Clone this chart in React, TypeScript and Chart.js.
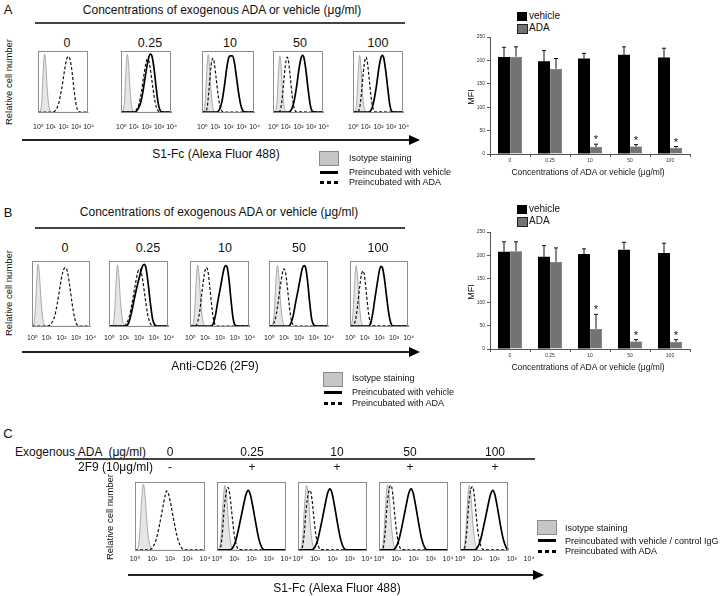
import React, { useEffect, useRef } from 'react';
import { Chart, registerables } from 'chart.js';

Chart.register(...registerables);

type Pt = [number, number];

const FONT = '"Liberation Sans", Arial, Helvetica, "DejaVu Sans", sans-serif';
Chart.defaults.font.family = FONT;

// ---------- tick labels / categories ----------
const decadeLabels = ['10⁰', '10¹', '10²', '10³', '10⁴'];
const concLabels = ['0', '0.25', '10', '50', '100'];
const antibodyFlags = ['-', '+', '+', '+', '+'];
const barCategories = ['0', '0.25', '10', '50', '100'];

// ---------- panel A histograms (x = log10 decade, y = % of max) ----------
const aIsotype: Pt[][] = [
  [[0,1],[0.15,2],[0.28,20],[0.38,62],[0.5,95],[0.6,78],[0.7,42],[0.82,14],[0.95,3],[1.1,1],[4,1]],
  [[0,1],[0.13,2],[0.26,20],[0.36,62],[0.48,95],[0.58,78],[0.68,42],[0.8,14],[0.93,3],[1.1,1],[4,1]],
  [[0,1],[0.1,2],[0.23,20],[0.33,62],[0.45,94],[0.55,76],[0.65,40],[0.77,13],[0.9,3],[1.05,1],[4,1]],
  [[0,1],[0.17,2],[0.3,20],[0.4,62],[0.52,92],[0.62,76],[0.72,40],[0.84,13],[0.97,3],[1.1,1],[4,1]],
  [[0,1],[0.15,2],[0.28,20],[0.38,60],[0.5,93],[0.6,76],[0.7,40],[0.82,13],[0.95,3],[1.1,1],[4,1]],
];
const aVehicle: (Pt[] | null)[] = [
  null,
  [[0,1.5],[1.05,1.5],[1.25,4],[1.5,14],[1.7,32],[1.9,58],[2.08,80],[2.22,92],[2.34,95],[2.46,90],[2.6,72],[2.75,45],[2.9,20],[3.05,6],[3.25,1.5],[4,1.5]],
  [[0,1.5],[1.1,1.5],[1.3,5],[1.5,18],[1.7,45],[1.88,74],[2.02,89],[2.15,92],[2.3,92],[2.45,82],[2.6,60],[2.78,32],[2.95,12],[3.12,3],[3.3,1.5],[4,1.5]],
  [[0,1.5],[1.2,1.5],[1.4,4],[1.62,16],[1.85,42],[2.05,72],[2.2,88],[2.33,93],[2.45,88],[2.6,68],[2.77,38],[2.93,14],[3.1,3],[3.3,1.5],[4,1.5]],
  [[0,1.5],[1.2,1.5],[1.4,4],[1.6,16],[1.83,42],[2.03,72],[2.18,88],[2.31,93],[2.43,88],[2.58,68],[2.75,38],[2.9,14],[3.05,3],[3.25,1.5],[4,1.5]],
];
const aAda: Pt[][] = [
  [[0,1.5],[1.15,1.5],[1.35,4],[1.6,14],[1.85,38],[2.05,64],[2.2,82],[2.32,90],[2.42,91],[2.55,84],[2.7,64],[2.85,36],[3.0,14],[3.15,4],[3.35,1.5],[4,1.5]],
  [[0,1.5],[0.95,1.5],[1.15,4],[1.4,14],[1.6,34],[1.8,62],[1.95,80],[2.05,87],[2.15,86],[2.3,72],[2.45,50],[2.6,28],[2.78,10],[2.95,3],[3.15,1.5],[4,1.5]],
  [[0,1.5],[0.25,2],[0.38,10],[0.5,35],[0.62,66],[0.72,84],[0.82,88],[0.92,80],[1.05,58],[1.2,30],[1.35,11],[1.5,3],[1.7,1.5],[4,1.5]],
  [[0,1.5],[0.45,2],[0.6,8],[0.75,32],[0.9,66],[1.02,85],[1.12,90],[1.22,82],[1.35,58],[1.5,28],[1.65,9],[1.82,2],[4,1.5]],
  [[0,1.5],[0.35,2],[0.5,8],[0.65,32],[0.8,66],[0.92,85],[1.02,90],[1.12,82],[1.25,58],[1.4,28],[1.55,9],[1.72,2],[4,1.5]],
];

// ---------- panel B histograms ----------
const bIsotype: Pt[][] = [
  [[0,1],[0.08,3],[0.2,25],[0.3,68],[0.4,95],[0.5,76],[0.6,40],[0.72,13],[0.85,3],[1.0,1],[4,1]],
  [[0,1],[0.22,2],[0.35,20],[0.45,62],[0.55,94],[0.65,76],[0.75,40],[0.87,13],[1.0,3],[1.15,1],[4,1]],
  [[0,1],[0.15,2],[0.28,20],[0.38,62],[0.5,94],[0.6,76],[0.7,40],[0.82,13],[0.95,3],[1.1,1],[4,1]],
  [[0,1],[0.2,2],[0.33,20],[0.43,62],[0.55,93],[0.65,76],[0.75,40],[0.87,13],[1.0,3],[1.15,1],[4,1]],
  [[0,1],[0.08,3],[0.2,25],[0.3,66],[0.4,93],[0.5,76],[0.6,40],[0.72,13],[0.85,3],[1.0,1],[4,1]],
];
const bVehicle: (Pt[] | null)[] = [
  null,
  [[0,1.5],[1.1,1.5],[1.3,6],[1.5,22],[1.7,44],[1.9,64],[2.08,80],[2.22,91],[2.35,95],[2.47,90],[2.62,66],[2.77,36],[2.92,12],[3.08,3],[3.25,1.5],[4,1.5]],
  [[0,1.5],[1.4,1.5],[1.55,5],[1.7,18],[1.85,38],[2.0,56],[2.13,72],[2.26,87],[2.38,93],[2.48,91],[2.6,74],[2.74,42],[2.88,14],[3.02,3],[3.2,1.5],[4,1.5]],
  [[0,1.5],[1.3,1.5],[1.45,5],[1.62,18],[1.8,40],[1.96,58],[2.1,75],[2.23,89],[2.35,93],[2.46,89],[2.58,70],[2.72,38],[2.86,12],[3.0,3],[3.15,1.5],[4,1.5]],
  [[0,1.5],[1.25,1.5],[1.4,6],[1.55,22],[1.7,45],[1.85,66],[1.98,84],[2.1,92],[2.2,90],[2.33,75],[2.48,48],[2.63,22],[2.78,6],[2.93,1.5],[4,1.5]],
];
const bAda: Pt[][] = [
  [[0,1.5],[1.05,1.5],[1.25,4],[1.5,14],[1.72,36],[1.92,64],[2.08,82],[2.2,89],[2.3,90],[2.42,83],[2.57,62],[2.73,36],[2.9,14],[3.05,4],[3.25,1.5],[4,1.5]],
  [[0,1.5],[0.95,1.5],[1.15,5],[1.35,16],[1.55,38],[1.75,64],[1.9,81],[2.02,88],[2.12,86],[2.26,70],[2.42,44],[2.58,20],[2.75,6],[2.92,1.5],[4,1.5]],
  [[0,1.5],[0.35,2],[0.5,8],[0.65,26],[0.8,55],[0.95,80],[1.07,90],[1.18,86],[1.3,64],[1.43,35],[1.56,12],[1.7,3],[1.9,1.5],[4,1.5]],
  [[0,1.5],[0.2,3],[0.38,10],[0.55,30],[0.72,58],[0.87,80],[0.99,88],[1.1,82],[1.22,60],[1.35,32],[1.48,11],[1.62,3],[1.8,1.5],[4,1.5]],
  [[0,1.5],[0.2,3],[0.35,10],[0.5,32],[0.65,62],[0.77,80],[0.87,85],[0.97,78],[1.1,52],[1.23,25],[1.36,8],[1.5,2],[4,1.5]],
];

// ---------- panel C histograms ----------
const cIsotype: Pt[][] = [
  [[0,1],[0.13,2],[0.26,22],[0.36,66],[0.48,97],[0.58,78],[0.68,42],[0.8,14],[0.93,3],[1.1,1],[4,1]],
  [[0,1],[0.11,2],[0.24,22],[0.34,66],[0.46,95],[0.56,78],[0.66,42],[0.78,14],[0.91,3],[1.05,1],[4,1]],
  [[0,1],[0.15,2],[0.28,22],[0.38,66],[0.5,95],[0.6,78],[0.7,42],[0.82,14],[0.95,3],[1.1,1],[4,1]],
  [[0,1],[0.15,2],[0.28,22],[0.38,66],[0.5,96],[0.6,78],[0.7,42],[0.82,14],[0.95,3],[1.1,1],[4,1]],
  [[0,1],[0.19,2],[0.32,22],[0.42,66],[0.54,95],[0.64,78],[0.74,42],[0.86,14],[0.99,3],[1.15,1],[2.8,1]],
];
const cVehicle: (Pt[] | null)[] = [
  null,
  [[0,1.5],[0.75,1.5],[0.92,5],[1.1,16],[1.3,38],[1.5,62],[1.68,82],[1.81,88],[1.93,82],[2.08,64],[2.25,40],[2.42,18],[2.6,5],[2.78,1.5],[4,1.5]],
  [[0,1.5],[0.8,1.5],[0.96,5],[1.14,16],[1.34,38],[1.54,63],[1.72,84],[1.85,90],[1.97,84],[2.12,65],[2.29,40],[2.46,18],[2.64,5],[2.82,1.5],[4,1.5]],
  [[0,1.5],[0.8,1.5],[0.97,5],[1.15,16],[1.35,38],[1.55,63],[1.73,84],[1.86,90],[1.98,84],[2.13,65],[2.3,40],[2.47,18],[2.65,5],[2.83,1.5],[4,1.5]],
  [[0,1.5],[0.85,1.5],[1.01,5],[1.19,16],[1.39,38],[1.59,62],[1.77,82],[1.9,88],[2.02,82],[2.17,63],[2.34,38],[2.51,17],[2.68,5],[2.8,2]],
];
const cAda: Pt[][] = [
  [[0,1.5],[0.8,1.5],[1.0,5],[1.2,16],[1.4,38],[1.58,62],[1.72,80],[1.81,87],[1.92,82],[2.06,66],[2.22,44],[2.4,22],[2.58,8],[2.78,2],[3.0,1.5],[4,1.5]],
  [[0,1.5],[0.18,3],[0.3,22],[0.42,62],[0.55,88],[0.65,92],[0.75,80],[0.88,50],[1.0,24],[1.13,8],[1.28,2],[4,1.5]],
  [[0,1.5],[0.22,3],[0.35,22],[0.47,60],[0.6,84],[0.7,88],[0.8,77],[0.93,46],[1.05,21],[1.18,7],[1.33,2],[4,1.5]],
  [[0,1.5],[0.22,3],[0.35,25],[0.47,66],[0.6,91],[0.7,95],[0.8,82],[0.93,48],[1.05,22],[1.18,7],[1.33,2],[4,1.5]],
  [[0,1.5],[0.25,3],[0.38,25],[0.5,66],[0.63,90],[0.73,93],[0.83,80],[0.96,46],[1.08,21],[1.21,7],[1.36,2],[2.8,1.5]],
];

// ---------- MFI bar charts ----------
const mfiVehicleA = [207, 198, 204, 212, 206];
const mfiVehicleErrA = [21, 23, 11, 17, 20];
const mfiAdaA = [208, 182, 15, 16, 13];
const mfiAdaErrA = [21, 22, 6, 4, 3];
const mfiVehicleB = [208, 197, 203, 212, 205];
const mfiVehicleErrB = [21, 24, 11, 16, 21];
const mfiAdaB = [209, 186, 43, 16, 15];
const mfiAdaErrB = [20, 30, 31, 4, 5];
const significant = [false, false, true, true, true];

// ---------- layout (positions only) ----------
type Box = { x: number; w: number; max?: number };
const boxesA: Box[] = [{ x: 33, w: 61 }, { x: 116, w: 61 }, { x: 197, w: 63 }, { x: 268, w: 61 }, { x: 348, w: 61 }];
const boxesB: Box[] = [{ x: 30, w: 63 }, { x: 107, w: 64 }, { x: 188, w: 64 }, { x: 267, w: 64 }, { x: 348, w: 63 }];
const boxesC: Box[] = [{ x: 135, w: 70 }, { x: 217, w: 69 }, { x: 298, w: 69 }, { x: 379, w: 69 }, { x: 460, w: 69, max: 2.8 }];

const framePlugin = {
  id: 'frame',
  afterDraw(chart: any, _args: any, opts: any) {
    const { left, top, bottom } = chart.chartArea;
    const right = chart.scales.x.getPixelForValue(opts && opts.max != null ? opts.max : 4);
    const ctx = chart.ctx;
    ctx.save();
    ctx.strokeStyle = '#8c8c8c';
    ctx.lineWidth = 1;
    ctx.strokeRect(Math.round(left) + 0.5, Math.round(top) + 0.5, Math.round(right - left) - 1, Math.round(bottom - top) - 1);
    ctx.restore();
  },
};

const errorBarPlugin = {
  id: 'errorBars',
  afterDatasetsDraw(chart: any) {
    const ctx = chart.ctx;
    const ys = chart.scales.y;
    chart.data.datasets.forEach((ds: any, i: number) => {
      const meta = chart.getDatasetMeta(i);
      meta.data.forEach((bar: any, j: number) => {
        const e = ds.errors ? ds.errors[j] : 0;
        const yTop = ys.getPixelForValue(ds.data[j] + e);
        ctx.save();
        ctx.strokeStyle = '#111';
        ctx.lineWidth = 1;
        ctx.beginPath();
        ctx.moveTo(bar.x, bar.y);
        ctx.lineTo(bar.x, yTop);
        ctx.moveTo(bar.x - 2, yTop);
        ctx.lineTo(bar.x + 2, yTop);
        ctx.stroke();
        if (ds.stars && ds.stars[j]) {
          ctx.fillStyle = '#111';
          ctx.font = `11px ${FONT}`;
          ctx.textAlign = 'center';
          ctx.textBaseline = 'alphabetic';
          ctx.fillText('*', bar.x, yTop - 1);
        }
        ctx.restore();
      });
    });
  },
};

const toXY = (pts: Pt[]) => pts.map(([x, y]) => ({ x, y }));

function Histogram({ box, top, h, gap, iso, veh, ada }: { box: Box; top: number; h: number; gap: number; iso: Pt[]; veh: Pt[] | null; ada: Pt[] }) {
  const ref = useRef<HTMLCanvasElement>(null);
  const P = 10;
  const axisH = gap + 11;
  useEffect(() => {
    const datasets: any[] = [];
    if (veh) {
      datasets.push({ data: toXY(veh), borderColor: '#000', borderWidth: 1.7, fill: false, pointRadius: 0, cubicInterpolationMode: 'monotone' });
    }
    datasets.push({ data: toXY(ada), borderColor: '#111', borderWidth: 1.2, borderDash: [3, 2], fill: false, pointRadius: 0, cubicInterpolationMode: 'monotone' });
    datasets.push({ data: toXY(iso), borderColor: '#a8a8a8', backgroundColor: '#e6e6e6', borderWidth: 1, fill: 'origin', pointRadius: 0, cubicInterpolationMode: 'monotone' });
    const chart = new Chart(ref.current as HTMLCanvasElement, {
      type: 'line',
      data: { datasets },
      options: {
        responsive: false,
        animation: false,
        events: [],
        layout: { padding: { left: P, right: P, top: 2, bottom: 0 } },
        plugins: { legend: { display: false }, tooltip: { enabled: false }, frame: { max: box.max ?? 4 } } as any,
        scales: {
          x: {
            type: 'linear', min: 0, max: 4,
            afterFit: (s: any) => { s.height = axisH; },
            grid: { display: false, drawTicks: false },
            border: { display: false },
            ticks: {
              stepSize: 1, autoSkip: false, maxRotation: 0, padding: gap,
              font: { size: 7, family: FONT }, color: '#222',
              callback: (v: any) => decadeLabels[Math.round(Number(v))],
            },
          },
          y: { display: false, min: 0, max: 100 },
        },
      } as any,
      plugins: [framePlugin],
    });
    return () => chart.destroy();
  }, []);
  return (
    <canvas ref={ref} width={box.w + 2 * P} height={h + 2 + axisH}
      style={{ position: 'absolute', left: box.x - P, top: top - 2 }} />
  );
}

function MfiChart({ top, veh, vehErr, ada, adaErr }: { top: number; veh: number[]; vehErr: number[]; ada: number[]; adaErr: number[] }) {
  const ref = useRef<HTMLCanvasElement>(null);
  useEffect(() => {
    const chart = new Chart(ref.current as HTMLCanvasElement, {
      type: 'bar',
      data: {
        labels: barCategories,
        datasets: [
          { label: 'vehicle', data: veh, errors: vehErr, backgroundColor: '#000', borderWidth: 0, barPercentage: 1, categoryPercentage: 0.6 } as any,
          { label: 'ADA', data: ada, errors: adaErr, stars: significant, backgroundColor: '#737373', borderColor: '#444', borderWidth: 0.5, barPercentage: 1, categoryPercentage: 0.6 } as any,
        ],
      },
      options: {
        responsive: false,
        animation: false,
        events: [],
        layout: { padding: { left: 0, right: 10, top: 7, bottom: 0 } },
        plugins: { legend: { display: false }, tooltip: { enabled: false } },
        scales: {
          x: {
            afterFit: (s: any) => { s.height = 16; },
            grid: { display: true, drawOnChartArea: false, tickLength: 3, color: '#555', offset: true },
            border: { color: '#555' },
            ticks: { font: { size: 5, family: FONT }, color: '#333', padding: 1, autoSkip: false, maxRotation: 0 },
          },
          y: {
            min: 0, max: 250,
            afterFit: (s: any) => { s.width = 35; },
            grid: { drawOnChartArea: false, tickLength: 3, color: '#555' },
            border: { color: '#555' },
            ticks: { stepSize: 50, font: { size: 5, family: FONT }, color: '#333', padding: 2 },
          },
        },
      } as any,
      plugins: [errorBarPlugin],
    });
    return () => chart.destroy();
  }, []);
  return <canvas ref={ref} width={245} height={140} style={{ position: 'absolute', left: 455, top }} />;
}

const base: React.CSSProperties = { position: 'absolute', whiteSpace: 'pre', lineHeight: 1, fontFamily: FONT, color: '#111' };

function T({ x, y, s, children, align = 'center', rot = false, bold = false }: { x: number; y: number; s: number; children: any; align?: 'center' | 'left'; rot?: boolean; bold?: boolean }) {
  const tf = rot ? 'translate(-50%,-50%) rotate(-90deg)' : align === 'center' ? 'translate(-50%,-50%)' : 'translate(0,-50%)';
  return <div style={{ ...base, left: x, top: y, fontSize: s, transform: tf, fontWeight: bold ? 'bold' : 'normal' }}>{children}</div>;
}

function HLine({ x1, x2, y, w = 1, c = '#444' }: { x1: number; x2: number; y: number; w?: number; c?: string }) {
  return <div style={{ position: 'absolute', left: x1, top: y - w / 2, width: x2 - x1, height: w, background: c }} />;
}

function Arrow({ x1, x2, y }: { x1: number; x2: number; y: number }) {
  return (
    <>
      <HLine x1={x1} x2={x2} y={y} w={1.5} c="#222" />
      <div style={{ position: 'absolute', left: x2, top: y - 5, width: 0, height: 0, borderTop: '5px solid transparent', borderBottom: '5px solid transparent', borderLeft: '11px solid #000' }} />
    </>
  );
}

function FlowLegend({ x, boxY, y1, y2, y3, tx, second }: { x: number; boxY: number; y1: number; y2: number; y3: number; tx: number; second: string }) {
  return (
    <>
      <div style={{ position: 'absolute', left: x, top: boxY, width: 18, height: 13, background: '#c6c6c6', border: '1px solid #8a8a8a' }} />
      <T x={tx} y={y1} s={9} align="left">Isotype staining</T>
      <div style={{ position: 'absolute', left: x + 1, top: y2 - 1.5, width: 18, height: 3, background: '#000' }} />
      <T x={tx} y={y2} s={9} align="left">{second}</T>
      {[0, 7, 14].map((d) => (
        <div key={d} style={{ position: 'absolute', left: x + 1 + d, top: y3 - 1.5, width: 3.5, height: 3, background: '#000' }} />
      ))}
      <T x={tx} y={y3} s={9} align="left">Preincubated with ADA</T>
    </>
  );
}

function BarLegend({ y1, y2 }: { y1: number; y2: number }) {
  return (
    <>
      <div style={{ position: 'absolute', left: 517, top: y1 - 4.5, width: 10, height: 9, background: '#000' }} />
      <T x={529} y={y1} s={10} align="left">vehicle</T>
      <div style={{ position: 'absolute', left: 517, top: y2 - 4.5, width: 9, height: 8, background: '#737373', border: '0.8px solid #222' }} />
      <T x={529} y={y2} s={10} align="left">ADA</T>
    </>
  );
}

export default function App() {
  const titleAB = 'Concentrations of exogenous ADA or vehicle (μg/ml)';
  const barTitle = 'Concentrations of ADA or vehicle (μg/ml)';
  const concXA = [67, 150, 230, 300, 378];
  const concXB = [65, 148, 225, 299, 378];
  const concXC = [170, 252, 337, 410, 495];
  return (
    <div style={{ position: 'absolute', left: 0, top: 0, width: 720, height: 596, background: '#fff', overflow: 'hidden' }}>
      {/* ---------------- Panel A ---------------- */}
      <T x={8} y={9} s={13}>A</T>
      <T x={222} y={10} s={12}>{titleAB}</T>
      <HLine x1={35} x2={405} y={23} w={1.2} />
      {concLabels.map((c, i) => <T key={'ca' + i} x={concXA[i]} y={43} s={12.5}>{c}</T>)}
      <T x={9} y={82} s={9.5} rot>Relative cell number</T>
      {boxesA.map((b, i) => (
        <Histogram key={'ha' + i} box={b} top={51} h={62} gap={10} iso={aIsotype[i]} veh={aVehicle[i]} ada={aAda[i]} />
      ))}
      <Arrow x1={22} x2={409} y={140} />
      <T x={216} y={154} s={12}>S1-Fc (Alexa Fluor 488)</T>
      <FlowLegend x={319} boxY={151} y1={158} y2={172} y3={182} tx={349} second="Preincubated with vehicle" />

      <BarLegend y1={16} y2={28} />
      <T x={471} y={97} s={9} rot>MFI</T>
      <MfiChart top={30} veh={mfiVehicleA} vehErr={mfiVehicleErrA} ada={mfiAdaA} adaErr={mfiAdaErrA} />
      <T x={588} y={172} s={8.5}>{barTitle}</T>

      {/* ---------------- Panel B ---------------- */}
      <T x={8} y={212} s={13}>B</T>
      <T x={219} y={212} s={12}>{titleAB}</T>
      <HLine x1={35} x2={405} y={228} w={1.2} />
      {concLabels.map((c, i) => <T key={'cb' + i} x={concXB[i]} y={248} s={12.5}>{c}</T>)}
      <T x={9} y={293} s={9.5} rot>Relative cell number</T>
      {boxesB.map((b, i) => (
        <Histogram key={'hb' + i} box={b} top={261} h={66} gap={7} iso={bIsotype[i]} veh={bVehicle[i]} ada={bAda[i]} />
      ))}
      <Arrow x1={22} x2={409} y={352} />
      <T x={215} y={366} s={12}>Anti-CD26 (2F9)</T>
      <FlowLegend x={323} boxY={372} y1={378} y2={392} y3={403} tx={352} second="Preincubated with vehicle" />

      <BarLegend y1={209} y2={221} />
      <T x={471} y={292} s={9} rot>MFI</T>
      <MfiChart top={225} veh={mfiVehicleB} vehErr={mfiVehicleErrB} ada={mfiAdaB} adaErr={mfiAdaErrB} />
      <T x={588} y={367} s={8.5}>{barTitle}</T>

      {/* ---------------- Panel C ---------------- */}
      <T x={8} y={433} s={13}>C</T>
      <T x={15} y={452} s={12} align="left">{'Exogenous ADA  (μg/ml)'}</T>
      {concLabels.map((c, i) => <T key={'cc' + i} x={concXC[i]} y={452} s={12}>{c}</T>)}
      <HLine x1={75} x2={535} y={459} w={1.2} />
      <T x={78} y={467} s={12} align="left">2F9 (10μg/ml)</T>
      {antibodyFlags.map((f, i) => <T key={'cf' + i} x={concXC[i]} y={467} s={12}>{f}</T>)}
      <T x={110} y={517} s={9.5} rot>Relative cell number</T>
      {boxesC.map((b, i) => (
        <Histogram key={'hc' + i} box={b} top={482} h={69} gap={4} iso={cIsotype[i]} veh={cVehicle[i]} ada={cAda[i]} />
      ))}
      <Arrow x1={128} x2={533} y={575} />
      <T x={337} y={588} s={12}>S1-Fc (Alexa Fluor 488)</T>
      <FlowLegend x={537} boxY={520} y1={527.5} y2={540.5} y3={551} tx={565} second="Preincubated with vehicle / control IgG" />
    </div>
  );
}
